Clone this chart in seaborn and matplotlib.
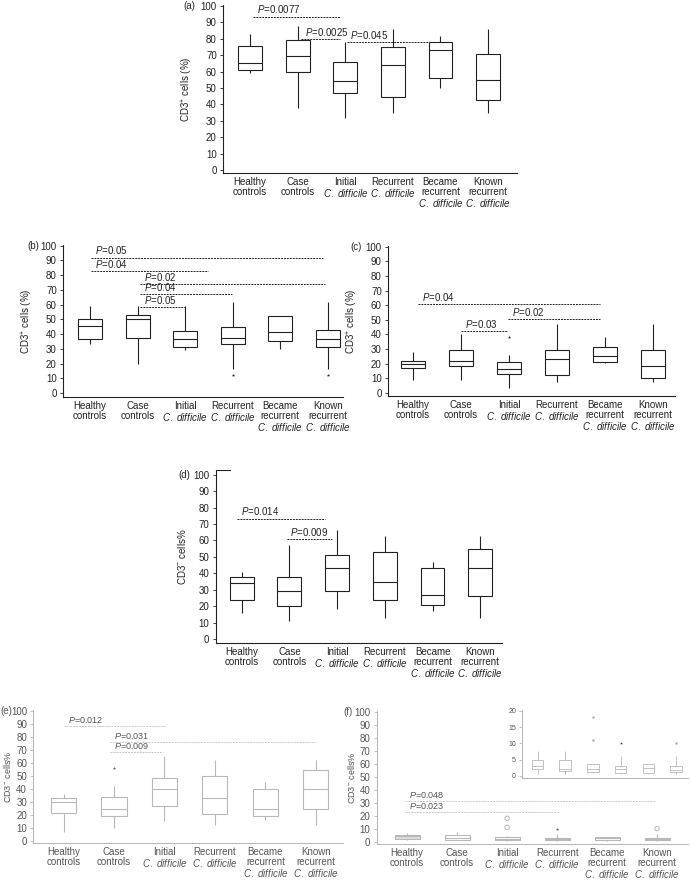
import numpy as np
import pandas as pd
import matplotlib
matplotlib.use('Agg')
import matplotlib.pyplot as plt
import seaborn as sns

sns.set_style('white')
plt.rcParams['font.family'] = ['Liberation Sans', 'DejaVu Sans']
plt.rcParams['mathtext.fontset'] = 'custom'
plt.rcParams['mathtext.rm'] = 'Liberation Sans'
plt.rcParams['mathtext.it'] = 'Liberation Sans:italic'

# group keys and tick labels
groups = ['Healthy', 'Case', 'Initial', 'Recurrent', 'Became', 'Known']
tick_labels = ['Healthy\ncontrols', 'Case\ncontrols',
               'Initial\n$\\it{C.\\ difficile}$', 'Recurrent\n$\\it{C.\\ difficile}$',
               'Became\nrecurrent\n$\\it{C.\\ difficile}$',
               'Known\nrecurrent\n$\\it{C.\\ difficile}$']

# five-number summaries per group: [low whisker, q1, median, q3, high whisker]
a_stats = [[59, 61, 65, 75.5, 83], [38, 60, 69.5, 79.5, 88], [32, 47, 54.5, 66, 78],
           [35, 44.5, 64, 75, 86], [50, 56, 73, 78, 82], [35, 42.5, 55, 71, 86]]
b_stats = [[33, 36.5, 45.5, 50.5, 59], [20, 37.5, 50.5, 53, 59], [29, 31, 36.5, 42, 59],
           [16, 33.5, 37.5, 45, 62], [30, 35.5, 41.5, 52.5, 52.5], [16, 31.5, 36.5, 43, 62]]
c_stats = [[9, 17, 20, 22, 28], [8.5, 18, 21.5, 29, 40.5], [3, 13, 16, 21, 26],
           [7, 12, 23, 29, 47], [20.5, 21, 25, 31, 38], [7, 10, 18, 29, 47]]
d_stats = [[16, 23.5, 34, 38, 40.5], [11, 20, 29, 37.5, 57.5], [18, 29, 43.5, 51, 66.5],
           [13, 24, 35, 53, 63], [17, 21, 26.5, 43.5, 47], [13, 26, 43, 55, 63]]
e_stats = [[7, 21.5, 29.5, 33, 36], [10, 19, 24, 33.5, 42], [15, 27, 40, 48, 65],
           [12, 20.5, 33, 50, 62], [16, 19, 24, 40, 45], [12, 24.5, 39.5, 54, 62]]
f_stats = [[1.5, 2, 4, 5, 7], [1, 1.5, 2.5, 5.5, 7.5], [0.5, 1.2, 2, 3.5, 4],
           [0.5, 1, 2, 3, 6], [0.5, 1, 2.5, 3.5, 3.5], [0.5, 1, 1.7, 3, 6]]
f_inset_stats = [[0.5, 2, 3, 5, 7.5], [0.5, 1.5, 2, 5, 7.5], [0.8, 1.3, 2, 3.5, 3.5],
                 [0.5, 0.7, 2, 3, 6], [0.5, 0.7, 2.5, 3.5, 3.5], [0.5, 1, 1.8, 3, 6]]

# outliers: (group index, value)
b_stars = [(3, 12), (5, 12)]
c_stars = [(2, 38)]
e_stars = [(1, 56)]
f_stars = [(3, 10)]
f_circles = [(2, 11), (2, 18), (5, 10)]

# significance brackets: (y, x start, x end, label)
a_p = [(93.5, 0.06, 1.89, '0.0077'), (79.9, 1.08, 1.89, '0.0025'), (77.8, 2.03, 4.2, '0.045')]
b_p = [(91.9, 0.02, 4.9, '0.05'), (82.8, 0.02, 2.48, '0.04'), (74, 1.05, 4.94, '0.02'),
       (67, 1.05, 2.98, '0.04'), (58.6, 1.05, 2.0, '0.05')]
c_p = [(60.5, 0.11, 3.9, '0.04'), (50.5, 1.99, 3.9, '0.02'), (42, 1.01, 1.95, '0.03')]
d_p = [(73.2, -0.1, 1.75, '0.014'), (60.8, 0.94, 1.9, '0.009')]
e_p = [(88.2, 0.0, 2.04, '0.012'), (76.2, 0.92, 4.99, '0.031'), (68.5, 0.92, 1.98, '0.009')]
f_p = [(31.3, -0.04, 4.96, '0.048'), (23.1, -0.04, 3.03, '0.023')]

W, H = 690, 882
fig = plt.figure(figsize=(W / 100, H / 100), dpi=100)


def add_ax(l, t, r, b):
    return fig.add_axes([l / W, 1 - b / H, (r - l) / W, (b - t) / H])


def to_long(stats):
    return pd.DataFrame([(g, v) for g, s in zip(groups, stats) for v in s],
                        columns=['group', 'value'])


def panel(ax, stats, xlim, ylim, lc='#222222', tc='#222222', fills=None,
          ylabel='CD3$^{+}$ cells (%)', fs=7, width=0.5, lw=0.8, ticks=True):
    df = to_long(stats)
    pal = fills if fills else {g: 'white' for g in groups}
    sns.boxplot(data=df, x='group', y='value', hue='group', palette=pal, order=groups,
                whis=(0, 100), width=width, linecolor=lc, linewidth=lw,
                showcaps=False, fliersize=0, legend=False, ax=ax)
    ax.set_xlim(*xlim)
    ax.set_ylim(*ylim)
    ax.set_xlabel('')
    ax.set_ylabel(ylabel, fontsize=fs, color=tc)
    for s in ['top', 'right']:
        ax.spines[s].set_visible(False)
    for s in ['left', 'bottom']:
        ax.spines[s].set_color(lc)
        ax.spines[s].set_linewidth(0.8)
    ax.tick_params(axis='y', length=2.5, width=0.6, colors=lc, labelcolor=tc,
                   labelsize=fs, pad=2, left=True)
    ax.tick_params(axis='x', length=0, labelcolor=tc, labelsize=fs, pad=3)
    ax.set_facecolor('none')
    if ticks:
        ax.set_yticks(range(0, 101, 10))
        ax.set_xticks(range(6))
        ax.set_xticklabels(tick_labels)
        for lab in ax.get_xticklabels():
            lab.set_linespacing(1.0)


def brackets(ax, plist, color, tcolor, fs=7):
    for y, x0, x1, lab in plist:
        ax.plot([x0, x1], [y, y], color=color, lw=0.7, ls=(0, (2, 1)))
        ax.text(x0 + 0.08, y + 0.8, '$\\it{P}$=' + lab, fontsize=fs, color=tcolor,
                ha='left', va='bottom')


def stars(ax, pts, color, s=8):
    ax.scatter([p[0] for p in pts], [p[1] for p in pts], marker='*', s=s,
               color=color, zorder=5, linewidths=0)


dark = '#222222'
grey = '#b8b8b8'
grey_txt = '#555555'

# (a)
ax = add_ax(223, 5.2, 517, 173.3)
panel(ax, a_stats, (-0.57, 5.61), (-2, 100.5))
brackets(ax, a_p, dark, dark)
fig.text(183 / W, 1 - 6 / H, '(a)', fontsize=7, va='center')

# (b)
ax = add_ax(63, 245, 343, 397)
panel(ax, b_stats, (-0.57, 5.32), (-2.7, 100.5))
brackets(ax, b_p, dark, dark)
stars(ax, b_stars, dark, 6)
fig.text(27 / W, 1 - 246 / H, '(b)', fontsize=7, va='center')

# (c)
ax = add_ax(388, 246, 675, 395.7)
panel(ax, c_stats, (-0.52, 5.46), (-2.05, 100.5))
brackets(ax, c_p, dark, dark)
stars(ax, c_stars, dark, 6)
fig.text(350 / W, 1 - 247 / H, '(c)', fontsize=7, va='center')

# (d)
ax = add_ax(215.7, 470, 501.7, 642.7)
panel(ax, d_stats, (-0.545, 5.45), (-2.25, 102.9), ylabel='CD3$^{-}$ cells%')
ax.axhline(102.9, xmin=0, xmax=0.05, color=dark, lw=0.8)
brackets(ax, d_p, dark, dark)
fig.text(178 / W, 1 - 475 / H, '(d)', fontsize=7, va='center')

# (e)
ax = add_ax(33.3, 710, 343, 843)
panel(ax, e_stats, (-0.6, 5.54), (-1.8, 100.5), lc=grey, tc=grey_txt,
      ylabel='CD3$^{-}$ cells%')
ax.yaxis.label.set_fontsize(6.5)
ax.yaxis.set_label_coords(-0.064, 0.5)
brackets(ax, e_p, '#c8c8c8', grey_txt, fs=6.5)
stars(ax, e_stars, '#555555', 6)
fig.text(0 / W, 1 - 711 / H, '(e)', fontsize=7, va='center', color=grey_txt)

# (f)
ax = add_ax(376.7, 711, 688, 844)
f_fill = {g: 'white' for g in groups}
f_fill['Healthy'] = '#dcdcdc'
panel(ax, f_stats, (-0.61, 5.62), (-1.8, 100.5), lc=grey, tc=grey_txt, fills=f_fill,
      ylabel='CD3$^{-}$ cells%')
ax.yaxis.label.set_fontsize(6.5)
ax.yaxis.set_label_coords(-0.064, 0.5)
brackets(ax, f_p, '#c8c8c8', grey_txt, fs=6.5)
stars(ax, f_stars, '#555555', 6)
ax.scatter([p[0] for p in f_circles], [p[1] for p in f_circles], marker='o', s=10,
           facecolors='none', edgecolors=grey, linewidths=0.7, zorder=5)
fig.text(343 / W, 1 - 712 / H, '(f)', fontsize=7, va='center', color=grey_txt)

# (f) inset
ax = add_ax(522.3, 710, 688, 778)
panel(ax, f_inset_stats, (-0.55, 5.43), (-0.7, 20.3), lc=grey, tc=grey_txt,
      ylabel='', fs=5, width=0.42, lw=0.6, ticks=False)
ax.set_yticks(range(0, 21, 5))
ax.set_xticks([])
stars(ax, f_stars, '#444444', 5)
ax.scatter([p[0] for p in f_circles], [p[1] for p in f_circles], marker='o', s=3,
           color='#aaaaaa', linewidths=0, zorder=5)

fig.savefig('out.png', dpi=100)
